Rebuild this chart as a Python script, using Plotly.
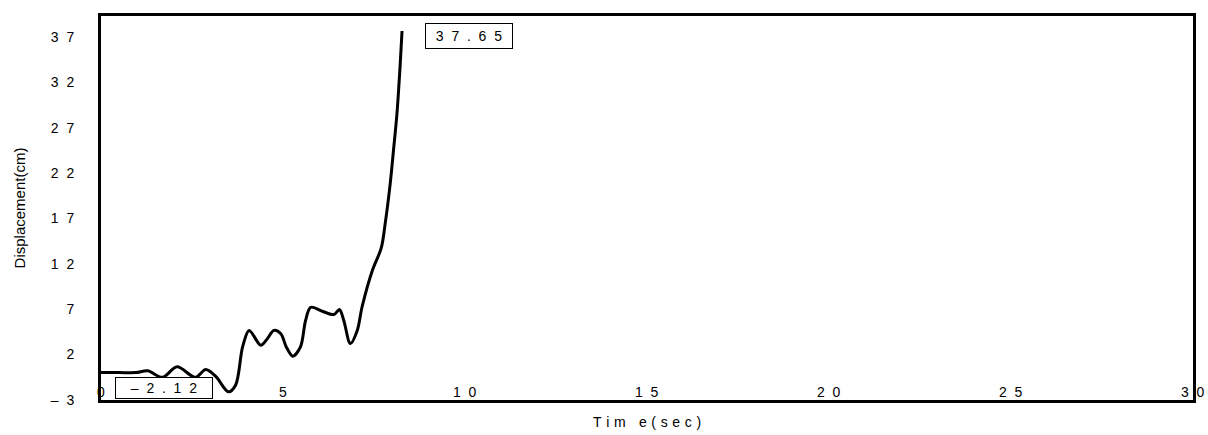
import plotly.graph_objects as go

# Displacement response history
time_sec = [0.0, 0.5, 0.96, 1.28, 1.69, 2.09, 2.59, 2.88, 3.16, 3.50, 3.70, 3.89,
            4.07, 4.39, 4.57, 4.75, 4.94, 5.09, 5.27, 5.48, 5.62, 5.76, 6.08,
            6.40, 6.55, 6.67, 6.85, 7.04, 7.17, 7.45, 7.70, 7.81, 7.95, 8.04,
            8.13, 8.22, 8.27]
disp_cm = [0.0, 0.0, 0.0, 0.2, -0.52, 0.64, -0.52, 0.35, -0.45, -2.12, -1.36,
           2.83, 4.65, 3.01, 3.74, 4.65, 4.29, 2.83, 1.81, 2.83, 5.74, 7.2,
           6.76, 6.4, 6.95, 5.74, 3.2, 4.65, 7.2, 11.2, 13.75, 16.5, 21.0,
           24.7, 28.5, 34.0, 37.65]

x_ticks = [0, 5, 10, 15, 20, 25, 30]
y_ticks = [-3, 2, 7, 12, 17, 22, 27, 32, 37]

NB = "\u00a0"
FONT = "Liberation Sans, Arial, sans-serif"


def spaced(s, gap=NB * 2):
    return gap.join(list(s))


fig = go.Figure()
fig.add_trace(go.Scatter(
    x=time_sec, y=disp_cm, mode="lines",
    line=dict(color="black", width=3, shape="spline", smoothing=0.9),
    showlegend=False, hoverinfo="skip",
))

# value labels at the extreme points
i_max = disp_cm.index(max(disp_cm))
i_min = disp_cm.index(min(disp_cm))
fig.add_annotation(
    x=time_sec[i_max], y=disp_cm[i_max], text=spaced(f"{disp_cm[i_max]:.2f}"),
    showarrow=False, xanchor="left", yanchor="middle", xshift=23, yshift=-5,
    bordercolor="black", borderwidth=1, borderpad=4, bgcolor="white",
    font=dict(family=FONT, size=14, color="black"), width=78,
)
fig.add_annotation(
    x=time_sec[i_min], y=disp_cm[i_min], text=spaced(f"{disp_cm[i_min]:.2f}".replace("-", "\u2013")),
    showarrow=False, xanchor="right", yanchor="middle", xshift=-15, yshift=4,
    bordercolor="black", borderwidth=1, borderpad=2, bgcolor="white",
    font=dict(family=FONT, size=14, color="black"), width=92,
)

# x tick labels, sitting on the axis line
for v in x_ticks:
    fig.add_annotation(
        x=v, y=0, yref="paper", text=spaced(str(v)), showarrow=False,
        xanchor="center", yanchor="bottom", yshift=-2,
        font=dict(family=FONT, size=14, color="black"),
    )

# x-axis title
fig.add_annotation(
    x=0.5, xref="paper", y=0, yref="paper",
    text="\u2004".join(list("Tim e(sec)")), showarrow=False,
    font=dict(family=FONT, size=14, color="black"),
    yanchor="top", yshift=-12,
)

fig.update_layout(
    width=1208, height=435,
    margin=dict(l=101, r=12, t=16, b=35),
    paper_bgcolor="white", plot_bgcolor="white",
    font=dict(family=FONT, size=14, color="black"),
    xaxis=dict(
        range=[0, 30], tickvals=x_ticks, showticklabels=False, ticks="",
        showgrid=False, zeroline=False,
        showline=True, linecolor="black", linewidth=3, mirror=True,
    ),
    yaxis=dict(
        range=[-3.02, 39.3], tickvals=y_ticks,
        ticktext=[spaced(str(v).replace("-", "\u2013")) for v in y_ticks],
        ticks="", ticklabelstandoff=21,
        showgrid=False, zeroline=False,
        showline=True, linecolor="black", linewidth=3, mirror=True,
        tickfont=dict(family=FONT, size=14, color="black"),
        title=dict(text="Displacement(cm)", standoff=22,
                   font=dict(family=FONT, size=15, color="black")),
    ),
)

fig.write_html("out.html")
